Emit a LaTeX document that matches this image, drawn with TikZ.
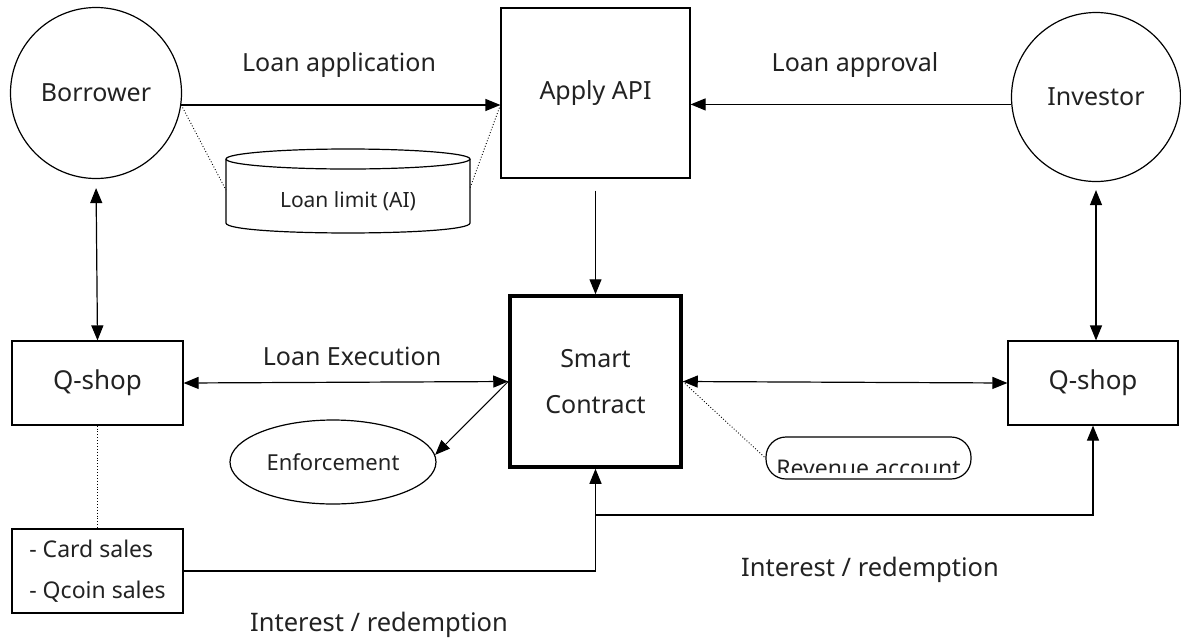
\documentclass[tikz,border=0pt]{standalone}
\usepackage{fontspec}
\setmainfont{Noto Sans}
\usetikzlibrary{arrows.meta,shapes.geometric}
\definecolor{txt}{HTML}{222222}
\begin{document}
\begin{tikzpicture}[x=1pt,y=-1pt,line width=1.2pt,
  tip/.tip={Triangle[length=15pt,width=12pt]},
  arr/.style={-tip},
  darr/.style={tip-tip},
  dots/.style={dotted,line width=0.9pt},
  lbl/.style={font=\fontsize{25}{29}\selectfont,text=txt},
  big/.style={font=\fontsize{25}{30}\selectfont,text=txt},
  small/.style={font=\fontsize{22}{26}\selectfont,text=txt},
  circ/.style={circle,draw,inner sep=0pt,minimum size=171pt,big},
  boxn/.style={rectangle,draw,inner sep=0pt,big}]
\useasboundingbox (0,0) rectangle (1181,641);

% nodes
\node[circ] (borrower) at (96,93) {Borrower};
\node[circ,minimum size=169pt] (investor) at (1096,97) {Investor};
\node[boxn,minimum width=189pt,minimum height=170pt] (apply) at (595.5,93) {Apply API};
\node[boxn,line width=3.5pt,minimum width=171pt,minimum height=171pt,align=center,
      font=\fontsize{25}{46}\selectfont] (smart) at (595.5,381.5) {Smart\\Contract};
\node[boxn,minimum width=171pt,minimum height=84pt,font=\fontsize{26}{30}\selectfont] (qshopL) at (97.5,383) {Q-shop};
\node[boxn,minimum width=170pt,minimum height=84pt,font=\fontsize{26}{30}\selectfont] (qshopR) at (1093,383) {Q-shop};
\node[rectangle,draw,inner sep=0pt,minimum width=171pt,minimum height=84pt,align=left,
      font=\fontsize{23}{41}\selectfont,text=txt] (cards) at (97.5,571) {- Card sales\\- Qcoin sales};
\node[ellipse,draw,inner sep=0pt,minimum width=206pt,minimum height=84pt,small] (enf) at (333,462) {Enforcement};
\node[rectangle,draw,rounded corners=20pt,minimum width=205pt,minimum height=42pt,inner sep=0pt] (revenue) at (868.5,458) {};
\begin{scope}
  \clip (766,437) rectangle (971,472.5);
  \node[small,font=\fontsize{23}{27}\selectfont,anchor=base,inner sep=0pt] (revtext) at (868.5,476) {Revenue account};
\end{scope}

% cylinder (database)
\draw (348,159) ellipse [x radius=122pt, y radius=10pt];
\draw (226,159) -- (226,223) .. controls (226,236.3) and (470,236.3) .. (470,223) -- (470,159);
\node[small,font=\fontsize{21}{25}\selectfont] (limit) at (348,201) {Loan limit (AI)};
\coordinate (cylL) at (226,190);
\coordinate (cylR) at (470,188);

% connectors
\draw[arr] (borrower.-8) -- (borrower.-8 -| apply.west);
\draw[arr] (investor.185) -- (investor.185 -| apply.east);
\draw[dots] (borrower.-8) -- (cylL);
\draw[dots] (borrower.-8 -| apply.west) -- (cylR);
\draw[arr,shorten <=12pt] (apply.south) -- (smart.north);
\draw[darr,shorten <=9pt] (borrower.south) -- (qshopL.north);
\draw[darr,shorten <=8pt] (investor.south) -- (investor.south |- qshopR.north);
\draw[darr] (qshopL.east) -- (smart.west);
\draw[darr] (smart.east) -- (qshopR.west);
\draw[arr,line width=1pt] (smart.west) -- (enf.4);
\draw[dots] (smart.east) -- (revenue.west);
\draw[dots] (qshopL.south) -- (cards.north);
\draw[arr] (cards.east) -| (smart.south);
\coordinate (jn) at (595.5,515);
\draw[arr] (jn) -| (qshopR.south);

% labels
\node[lbl] (l1) at (339,65) {Loan application};
\node[lbl] (l2) at (855,65) {Loan approval};
\node[lbl] (l3) at (352,356) {Loan Execution};
\node[lbl,font=\fontsize{25.5}{29}\selectfont] (l4) at (870,570) {Interest / redemption};
\node[lbl,font=\fontsize{25.5}{29}\selectfont] (l5) at (379,625) {Interest / redemption};
\end{tikzpicture}
\end{document}
